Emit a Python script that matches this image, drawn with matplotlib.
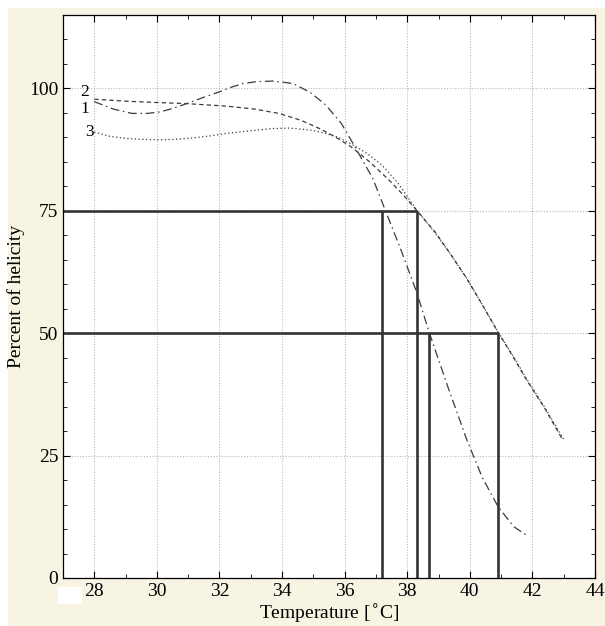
import numpy as np
import matplotlib.pyplot as plt
from matplotlib.patches import Rectangle
from matplotlib.ticker import MultipleLocator

# --- curve data (temperature, percent of helicity) ---
t1 = [28.0, 28.6, 29.2, 29.7, 30.1, 30.5, 30.95, 31.5, 32.0, 32.4, 32.75, 33.2, 33.7, 34.0, 34.35,
      34.9, 35.4, 35.9, 36.3, 36.9, 37.3, 37.8, 38.3, 38.7, 39.3, 39.9, 40.4, 40.9, 41.4, 41.8]
h1 = [97.3, 95.8, 94.9, 94.9, 95.2, 95.9, 96.9, 98.2, 99.3, 100.3, 101.0, 101.4, 101.5, 101.3, 101.0,
      99.2, 96.6, 92.8, 88.4, 81.6, 75.1, 67.0, 58.4, 50.2, 39.0, 28.3, 20.5, 14.6, 10.5, 8.8]

t2 = [28.0, 29.0, 30.1, 30.95, 32.2, 33.1, 33.9, 34.6, 35.2, 35.7, 36.2, 36.8, 37.4, 37.85, 38.3,
      38.9, 39.4, 39.9, 40.4, 40.9, 41.4, 41.8, 42.4, 42.95]
h2 = [97.8, 97.4, 97.1, 96.9, 96.4, 95.8, 94.9, 93.5, 91.8, 90.1, 88.1, 85.0, 81.4, 78.4, 75.1,
      70.6, 66.0, 61.2, 55.8, 50.2, 45.0, 40.6, 34.6, 28.4]

t3 = [28.0, 28.5, 29.0, 29.5, 30.1, 30.6, 31.15, 31.7, 32.2, 32.9, 33.7, 34.2, 34.6, 35.0, 35.4,
      35.8, 36.2, 36.7, 37.2, 37.7, 38.3, 38.9, 39.4, 39.9, 40.4, 40.9, 41.4, 41.8, 42.4, 43.0]
h3 = [91.1, 90.2, 89.8, 89.6, 89.5, 89.6, 89.9, 90.3, 90.8, 91.3, 91.8, 91.9, 91.7, 91.4, 90.8,
      90.0, 88.7, 86.8, 84.3, 80.7, 75.2, 70.4, 66.0, 61.2, 55.8, 50.3, 45.2, 40.8, 34.8, 28.3]

# --- reference levels and melting temperatures ---
levels = [75, 50]
t75 = [37.2, 38.3]
t50 = [38.7, 40.9]

curve_labels = ['2', '1', '3']
label_pos_x = [27.7, 27.7, 27.85]
label_pos_y = [99.2, 95.7, 91.0]

plt.rcParams['font.family'] = ['Liberation Serif', 'DejaVu Serif']

fig = plt.figure(figsize=(6.05, 6.26), dpi=100, facecolor='white')
fig.patches.append(Rectangle((8 / 605, 0), 1, 1 - 8 / 626, transform=fig.transFigure,
                             facecolor='#f8f4e4', edgecolor='none', zorder=-10))
fig.patches.append(Rectangle((58 / 605, 1 - 604 / 626), 24 / 605, 17 / 626,
                             transform=fig.transFigure, facecolor='white', edgecolor='none', zorder=-5))

ax = fig.add_axes([63 / 605, 1 - 578 / 626, 532 / 605, 563 / 626])
ax.set_facecolor('white')

col = '#3c3c3c'
ax.plot(t1, h1, color=col, lw=0.9, dashes=(7, 3, 1.2, 3))
ax.plot(t2, h2, color=col, lw=0.9, dashes=(3.5, 2.5))
ax.plot(t3, h3, color=col, lw=0.9, dashes=(1, 2))

# thick guide lines
ax.hlines(levels[0], 27, max(t75), color='#333333', lw=1.9)
ax.hlines(levels[1], 27, max(t50), color='#333333', lw=1.9)
for t in t75:
    ax.vlines(t, 0, levels[0], color='#333333', lw=1.9)
for t in t50:
    ax.vlines(t, 0, levels[1], color='#333333', lw=1.9)

for lab, x, y in zip(curve_labels, label_pos_x, label_pos_y):
    ax.text(x, y, lab, fontsize=12.5, ha='center', va='center')

ax.set_xlim(27, 44)
ax.set_ylim(0, 115)
ax.set_xticks(np.arange(28, 45, 2))
ax.set_yticks([0, 25, 50, 75, 100])
ax.xaxis.set_minor_locator(MultipleLocator(1))
ax.yaxis.set_minor_locator(MultipleLocator(5))
ax.tick_params(which='both', direction='in', top=True, right=True, labelsize=14)
ax.tick_params(which='major', length=5, width=0.8)
ax.tick_params(which='minor', length=3, width=0.6)
ax.grid(True, which='major', color='#b8b8b8', ls=(0, (1, 1.5)), lw=0.8)
ax.set_axisbelow(True)
for s in ax.spines.values():
    s.set_linewidth(0.9)

ax.set_xlabel('Temperature [$^{\\circ}$C]', fontsize=14, labelpad=2)
ax.set_ylabel('Percent of helicity', fontsize=14, labelpad=3)

fig.savefig('out.png', dpi=100, facecolor=fig.get_facecolor())
